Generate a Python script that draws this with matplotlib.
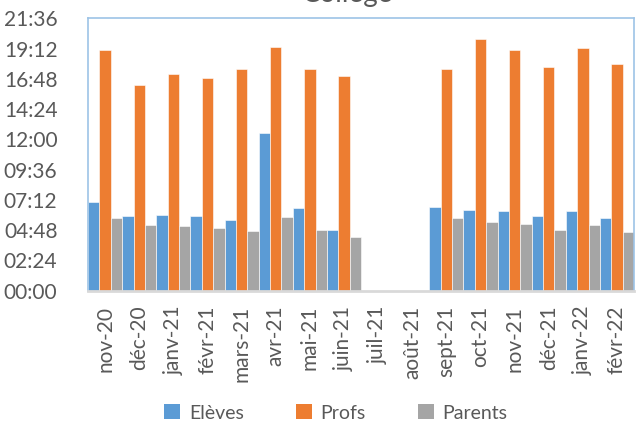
import numpy as np
import matplotlib
matplotlib.use('Agg')
import matplotlib.pyplot as plt
from matplotlib.ticker import FuncFormatter, MultipleLocator
from matplotlib.patches import Patch

plt.rcParams['font.family'] = ['Lato', 'DejaVu Sans']

# mois (axe des x)
mois = ["nov-20", "déc-20", "janv-21", "févr-21", "mars-21", "avr-21",
        "mai-21", "juin-21", "juil-21", "août-21", "sept-21", "oct-21",
        "nov-21", "déc-21", "janv-22", "févr-22"]

# durées en heures
eleves = [7.02, 5.91, 6.01, 5.91, 5.59, 12.53, 6.54, 4.77, 0, 0,
          6.67, 6.43, 6.30, 5.93, 6.30, 5.75]
profs = [19.12, 16.35, 17.19, 16.88, 17.56, 19.36, 17.56, 17.01, 0, 0,
         17.56, 19.99, 19.12, 17.72, 19.28, 17.96]
parents = [5.78, 5.17, 5.09, 4.98, 4.72, 5.83, 4.83, 4.27, 0, 0,
           5.72, 5.46, 5.27, 4.83, 5.22, 4.67]

series = [("Elèves", eleves, "#5B9BD5"),
          ("Profs", profs, "#ED7D31"),
          ("Parents", parents, "#A5A5A5")]

txt = "#595959"

fig = plt.figure(figsize=(6.38, 4.23), dpi=100)
ax = fig.add_axes([88 / 638, 1 - 290.5 / 423, (634 - 88) / 638, (290.5 - 18.5) / 423])

x = np.arange(len(mois))
w = 1 / 3
for i, (nom, vals, col) in enumerate(series):
    ax.bar(x + (i - 1) * w, vals, width=w, color=col,
           edgecolor="white", linewidth=0.4)

ax.set_xlim(-0.5, len(mois) - 0.5)
ax.set_ylim(0, 21.6)
ax.yaxis.set_major_locator(MultipleLocator(2.4))


def hhmm(v, pos):
    m = int(round(v * 60))
    return "%02d:%02d" % (m // 60, m % 60)


ax.yaxis.set_major_formatter(FuncFormatter(hhmm))
ax.set_xticks(x)
ax.set_xticklabels(mois, rotation=90, va="top", ha="center")
ax.tick_params(axis="both", length=0, labelsize=15, colors=txt)
ax.tick_params(axis="y", pad=22)
ax.tick_params(axis="x", pad=11)

for s in ["left", "top", "right"]:
    ax.spines[s].set_color("#9DC3E6")
    ax.spines[s].set_linewidth(1.2)
ax.spines["bottom"].set_color("#D9D9D9")
ax.spines["bottom"].set_linewidth(2)
ax.spines["bottom"].set_zorder(5)

# titre coupé en haut comme dans l'original
fig.text(347 / 638, 1 - 2 / 423, "Collège", ha="center", va="baseline",
         fontsize=20, color=txt)

handles = [Patch(facecolor=c, edgecolor="none") for _, _, c in series]
fig.legend(handles, [n for n, _, _ in series], loc="center",
           bbox_to_anchor=(336 / 638, 1 - 413 / 423), ncol=3, frameon=False,
           fontsize=14, labelcolor=txt, handlelength=0.8, handleheight=0.8,
           handletextpad=0.45, columnspacing=2.7)

fig.savefig("out.png", dpi=100)
